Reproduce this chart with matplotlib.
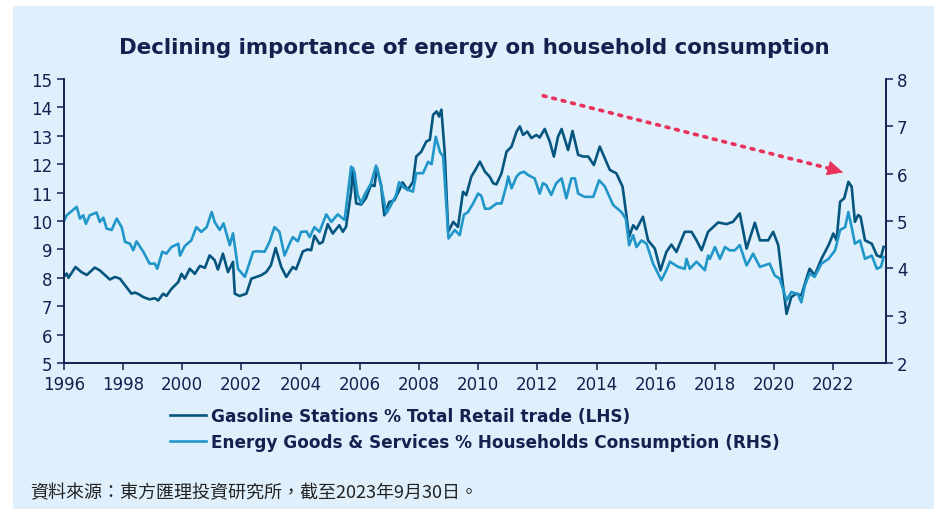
import numpy as np
import matplotlib.pyplot as plt
from matplotlib.patches import Rectangle

# données (années décimales)
gas_t = [1996.0, 1996.1, 1996.16, 1996.4, 1996.6, 1996.78, 1997.05, 1997.22, 1997.56, 1997.73,
         1997.9, 1998.12, 1998.29, 1998.4, 1998.52, 1998.69, 1998.9, 1999.08, 1999.19, 1999.36,
         1999.47, 1999.64, 1999.87, 1999.98, 2000.09, 2000.26, 2000.43, 2000.6, 2000.77, 2000.93,
         2001.1, 2001.21, 2001.38, 2001.55, 2001.72, 2001.78, 2001.94, 2002.17, 2002.34, 2002.5,
         2002.67, 2002.84, 2003.0, 2003.16, 2003.35, 2003.52, 2003.74, 2003.85, 2004.08, 2004.25,
         2004.36, 2004.47, 2004.64, 2004.75, 2004.92, 2005.09, 2005.31, 2005.43, 2005.54, 2005.71,
         2005.77, 2005.88, 2006.05, 2006.21, 2006.38, 2006.5, 2006.58, 2006.72, 2006.83, 2007.0,
         2007.17, 2007.34, 2007.45, 2007.62, 2007.8, 2007.91, 2008.08, 2008.25, 2008.37, 2008.48,
         2008.6, 2008.68, 2008.76, 2008.87, 2008.99, 2009.16, 2009.32, 2009.49, 2009.6, 2009.77,
         2009.94, 2010.06, 2010.23, 2010.39, 2010.51, 2010.62, 2010.79, 2010.96, 2011.13, 2011.3,
         2011.41, 2011.52, 2011.66, 2011.8, 2011.97, 2012.08, 2012.25, 2012.42, 2012.56, 2012.7,
         2012.82, 2013.04, 2013.19, 2013.38, 2013.55, 2013.72, 2013.91, 2014.11, 2014.28, 2014.45,
         2014.67, 2014.88, 2015.01, 2015.1, 2015.24, 2015.35, 2015.57, 2015.74, 2015.97, 2016.16,
         2016.36, 2016.53, 2016.7, 2016.98, 2017.21, 2017.38, 2017.55, 2017.77, 2018.11, 2018.39,
         2018.61, 2018.84, 2019.07, 2019.35, 2019.52, 2019.8, 2019.97, 2020.14, 2020.3, 2020.42,
         2020.58, 2020.75, 2020.92, 2021.09, 2021.2, 2021.37, 2021.6, 2021.84, 2022.0, 2022.11,
         2022.23, 2022.37, 2022.51, 2022.62, 2022.73, 2022.84, 2022.92, 2023.07, 2023.3, 2023.47,
         2023.61, 2023.7]
gas_val = [8.03, 8.15, 8.0, 8.38, 8.2, 8.1, 8.36, 8.26, 7.94, 8.03,
           7.97, 7.67, 7.44, 7.48, 7.43, 7.32, 7.24, 7.28, 7.2, 7.44,
           7.36, 7.61, 7.85, 8.14, 7.97, 8.32, 8.14, 8.42, 8.35, 8.79,
           8.62, 8.29, 8.85, 8.2, 8.56, 7.44, 7.36, 7.44, 7.97, 8.03,
           8.09, 8.2, 8.44, 9.05, 8.38, 8.03, 8.38, 8.3, 8.93, 9.0,
           8.97, 9.48, 9.2, 9.26, 9.89, 9.56, 9.85, 9.62, 9.8, 11.03,
           11.86, 10.62, 10.58, 10.8, 11.27, 11.23, 11.88, 11.27, 10.2, 10.67,
           10.73, 11.09, 11.36, 11.09, 11.38, 12.27, 12.44, 12.8, 12.86, 13.74,
           13.86, 13.68, 13.92, 12.44, 9.62, 9.97, 9.79, 11.03, 10.91, 11.56,
           11.86, 12.09, 11.74, 11.56, 11.33, 11.29, 11.68, 12.44, 12.62, 13.15,
           13.33, 13.03, 13.15, 12.92, 13.03, 12.94, 13.24, 12.8, 12.27, 12.97,
           13.24, 12.5, 13.17, 12.33, 12.27, 12.27, 11.97, 12.62, 12.21, 11.8,
           11.68, 11.21, 10.21, 9.44, 9.85, 9.71, 10.15, 9.32, 9.03, 8.26,
           8.91, 9.17, 8.91, 9.62, 9.62, 9.32, 8.97, 9.62, 9.95, 9.89,
           9.97, 10.27, 9.03, 9.94, 9.32, 9.32, 9.62, 9.15, 7.73, 6.73,
           7.32, 7.44, 7.38, 7.97, 8.32, 8.09, 8.67, 9.15, 9.56, 9.32,
           10.68, 10.8, 11.38, 11.21, 9.97, 10.21, 10.15, 9.32, 9.2, 8.79,
           8.73, 9.09]

nrg_t = [1996.0, 1996.1, 1996.44, 1996.55, 1996.66, 1996.75, 1996.88, 1997.11, 1997.22, 1997.34,
         1997.45, 1997.62, 1997.79, 1997.96, 1998.07, 1998.24, 1998.35, 1998.46, 1998.69, 1998.9,
         1999.08, 1999.16, 1999.33, 1999.47, 1999.64, 1999.87, 1999.93, 2000.09, 2000.31, 2000.48,
         2000.65, 2000.83, 2001.0, 2001.1, 2001.27, 2001.4, 2001.61, 2001.72, 2001.89, 2002.12,
         2002.4, 2002.56, 2002.79, 2002.96, 2003.12, 2003.29, 2003.46, 2003.63, 2003.74, 2003.91,
         2004.02, 2004.2, 2004.31, 2004.47, 2004.64, 2004.87, 2005.04, 2005.26, 2005.49, 2005.71,
         2005.82, 2005.93, 2006.05, 2006.16, 2006.38, 2006.55, 2006.72, 2006.9, 2007.06, 2007.23,
         2007.33, 2007.52, 2007.8, 2007.91, 2008.14, 2008.31, 2008.43, 2008.57, 2008.71, 2008.82,
         2009.0, 2009.21, 2009.38, 2009.52, 2009.66, 2009.83, 2010.0, 2010.11, 2010.23, 2010.39,
         2010.62, 2010.79, 2010.96, 2011.02, 2011.13, 2011.3, 2011.41, 2011.55, 2011.69, 2011.91,
         2012.08, 2012.19, 2012.3, 2012.47, 2012.64, 2012.82, 2012.98, 2013.15, 2013.27, 2013.38,
         2013.6, 2013.89, 2014.09, 2014.28, 2014.56, 2014.84, 2014.99, 2015.1, 2015.24, 2015.35,
         2015.52, 2015.69, 2015.91, 2016.19, 2016.36, 2016.48, 2016.76, 2016.98, 2017.04, 2017.15,
         2017.38, 2017.66, 2017.77, 2017.83, 2018.0, 2018.17, 2018.34, 2018.5, 2018.67, 2018.84,
         2019.07, 2019.29, 2019.52, 2019.85, 2020.02, 2020.19, 2020.42, 2020.58, 2020.8, 2020.92,
         2021.04, 2021.2, 2021.37, 2021.6, 2021.84, 2022.06, 2022.23, 2022.4, 2022.51, 2022.62,
         2022.73, 2022.9, 2023.07, 2023.3, 2023.47, 2023.61, 2023.7]
nrg_val = [4.98, 5.12, 5.3, 5.05, 5.12, 4.94, 5.12, 5.18, 4.98, 5.07,
           4.84, 4.81, 5.05, 4.87, 4.56, 4.52, 4.38, 4.57, 4.35, 4.1,
           4.1, 3.99, 4.35, 4.31, 4.45, 4.52, 4.27, 4.47, 4.59, 4.87,
           4.77, 4.87, 5.19, 4.98, 4.81, 4.95, 4.49, 4.74, 3.99, 3.82,
           4.35, 4.36, 4.35, 4.57, 4.87, 4.77, 4.27, 4.52, 4.66, 4.57,
           4.77, 4.78, 4.66, 4.87, 4.77, 5.14, 4.98, 5.14, 5.02, 6.15,
           6.04, 5.55, 5.37, 5.55, 5.79, 6.17, 5.76, 5.16, 5.34, 5.55,
           5.82, 5.69, 5.62, 6.01, 6.01, 6.25, 6.2, 6.78, 6.46, 6.36,
           4.63, 4.81, 4.7, 5.13, 5.19, 5.37, 5.58, 5.53, 5.26, 5.26,
           5.37, 5.37, 5.76, 5.94, 5.69, 5.94, 6.01, 6.04, 5.97, 5.9,
           5.58, 5.8, 5.76, 5.55, 5.8, 5.9, 5.48, 5.9, 5.9, 5.58,
           5.51, 5.51, 5.86, 5.73, 5.34, 5.19, 5.05, 4.49, 4.7, 4.45,
           4.59, 4.52, 4.1, 3.75, 3.96, 4.14, 4.03, 3.99, 4.2, 3.99,
           4.14, 3.96, 4.27, 4.2, 4.45, 4.2, 4.45, 4.38, 4.38, 4.49,
           4.06, 4.31, 4.03, 4.1, 3.85, 3.78, 3.32, 3.5, 3.46, 3.28,
           3.64, 3.89, 3.82, 4.1, 4.2, 4.38, 4.81, 4.87, 5.19, 4.87,
           4.52, 4.59, 4.2, 4.27, 3.99, 4.03, 4.24]

x_ticks = list(range(1996, 2023, 2))
left_ticks = list(range(5, 16))
right_ticks = list(range(2, 9))

titre = "Declining importance of energy on household consumption"
lab_gas = "Gasoline Stations % Total Retail trade (LHS)"
lab_nrg = "Energy Goods & Services % Households Consumption (RHS)"
source = "資料來源：東方匯理投資研究所，截至2023年9月30日。"

# flèche de tendance (axe de gauche)
fleche_debut = (2012.2, 14.41)
fleche_base = (2021.9, 11.84)
fleche_pointe = (2022.33, 11.71)

# couleurs
bleu_fond = "#DFF0FC"
marine = "#15204F"
c_gas = "#06557F"
c_nrg = "#2196C9"
rouge = "#E8315B"

fig = plt.figure(figsize=(9.34, 5.10), dpi=100, facecolor="white")
fig.patches.append(Rectangle((13/934, 0), 1 - 13/934, 1 - 7/510, transform=fig.transFigure,
                             facecolor=bleu_fond, edgecolor="none", zorder=-5))

ax = fig.add_axes([63.7/934, 1 - 364/510, (885.7 - 63.7)/934, (364 - 80)/510])
ax.set_facecolor("none")
ax2 = ax.twinx()

l1, = ax.plot(gas_t, gas_val, color=c_gas, lw=1.9, solid_joinstyle="round")
l2, = ax2.plot(nrg_t, nrg_val, color=c_nrg, lw=1.9, solid_joinstyle="round")

ax.set_xlim(1996, 2023.77)
ax.set_ylim(5, 15)
ax2.set_ylim(2, 8)
ax.set_xticks(x_ticks)
ax.set_yticks(left_ticks)
ax2.set_yticks(right_ticks)

for a in (ax, ax2):
    a.spines["top"].set_visible(False)
    for s in ("left", "right", "bottom"):
        a.spines[s].set_color(marine)
        a.spines[s].set_linewidth(1.2)
    a.tick_params(colors=marine, labelsize=12, length=5, width=1.1, pad=3)
ax.tick_params(axis="x", pad=4)

# pointillés + tête pleine
ax.annotate("", xy=fleche_base, xytext=fleche_debut,
            arrowprops=dict(arrowstyle="-", color=rouge, lw=2.6,
                            linestyle=(0, (0.8, 1.9)), shrinkA=0, shrinkB=0))
ax.annotate("", xy=fleche_pointe, xytext=fleche_base,
            arrowprops=dict(arrowstyle="-|>,head_length=1.05,head_width=0.5", color=rouge,
                            lw=0.5, shrinkA=0, shrinkB=0))

fig.text(474/934, 1 - 48/510, titre, ha="center", va="center", fontsize=15.4, fontweight="bold",
         color=marine)

fig.legend([l1, l2], [lab_gas, lab_nrg], loc="upper left", bbox_to_anchor=(170/934, 1 - 408/510),
           frameon=False, prop=dict(size=12.2, weight="bold"), handlelength=2.1,
           handletextpad=0.3, labelspacing=0.45, borderpad=0, borderaxespad=0, labelcolor=marine)

fig.text(30/934, 1 - 493/510, source, ha="left", va="center", fontsize=13, color="#222222",
         family=["Noto Sans CJK TC", "DejaVu Sans"])

fig.savefig("out.png", dpi=100, facecolor=fig.get_facecolor())
